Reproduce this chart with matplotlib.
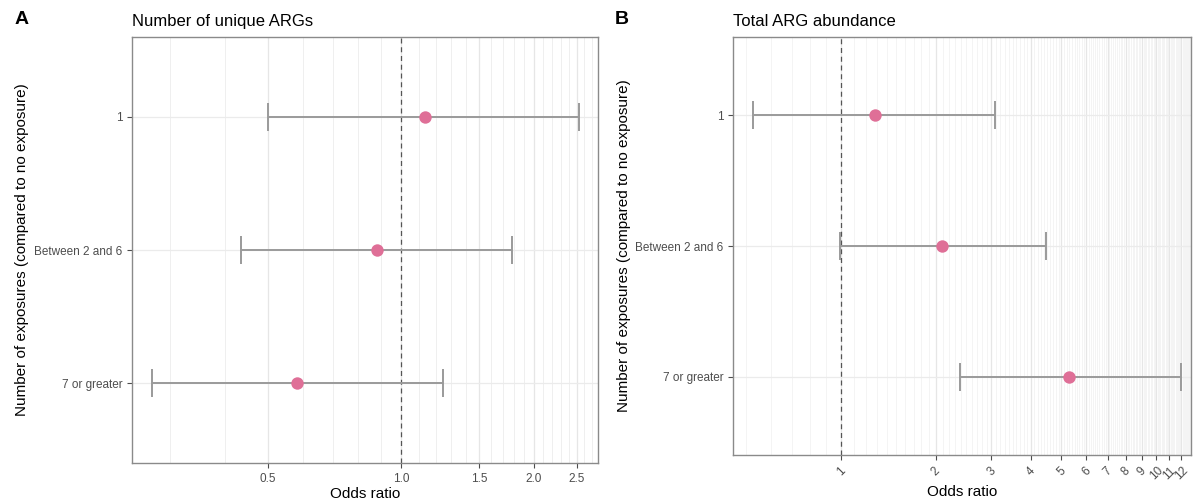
import matplotlib.pyplot as plt
import numpy as np
from matplotlib.ticker import FixedLocator, NullFormatter

plt.rcParams['font.family'] = ['Liberation Sans', 'DejaVu Sans']

groups = ["1", "Between 2 and 6", "7 or greater"]

# odds ratios and 95% CI, number of unique ARGs
or_unique = [1.13, 0.88, 0.58]
lo_unique = [0.50, 0.435, 0.273]
hi_unique = [2.53, 1.78, 1.245]

# odds ratios and 95% CI, total ARG abundance
or_total = [1.28, 2.09, 5.28]
lo_total = [0.526, 0.99, 2.38]
hi_total = [3.08, 4.47, 11.96]

ticks_a = [0.5, 1.0, 1.5, 2.0, 2.5]
ticklabels_a = ["0.5", "1.0", "1.5", "2.0", "2.5"]
ticks_b = [1, 2, 3, 4, 5, 6, 7, 8, 9, 10, 11, 12]

W, H = 1195, 500
fig = plt.figure(figsize=(W / 100, H / 100), dpi=100)

def box(l, r, t, b):
    return [l / W, 1 - b / H, (r - l) / W, (b - t) / H]

ax_a = fig.add_axes(box(132, 598, 37, 463))
ax_b = fig.add_axes(box(733, 1191, 37, 455))

ypos = np.arange(len(groups))[::-1] + 1  # "1" at top

def forest(ax, est, lo, hi, xlim, minor, major, labels, title, rot, minor_col,
           ylab_x):
    ax.set_xscale('log')
    ax.set_xlim(*xlim)
    ax.set_ylim(0.4, 3.6)
    for m in minor:
        ax.axvline(m, color=minor_col, lw=0.6, zorder=0)
    for m in major:
        ax.axvline(m, color='#e6e6e6', lw=0.9, zorder=0)
    for y in ypos:
        ax.axhline(y, color='#ebebeb', lw=0.9, zorder=0)
    ax.axvline(1, color='#555555', lw=0.9, ls=(0, (4, 3)), zorder=1)
    est = np.array(est)
    ax.errorbar(est, ypos, xerr=[est - np.array(lo), np.array(hi) - est],
                fmt='none', ecolor='#9a9a9a', elinewidth=1.4, capsize=10,
                capthick=1.4, zorder=2)
    ax.scatter(est, ypos, s=80, color='#df6f97', zorder=3, linewidths=0)
    ax.xaxis.set_major_locator(FixedLocator(major))
    ax.xaxis.set_minor_locator(FixedLocator([]))
    ax.xaxis.set_minor_formatter(NullFormatter())
    ax.set_xticklabels(labels, rotation=rot, ha='center')
    ax.set_yticks(ypos)
    ax.set_yticklabels(groups)
    ax.tick_params(axis='both', colors='#4d4d4d', labelsize=8.5, length=3.5,
                   width=0.8)
    for s in ax.spines.values():
        s.set_color('#8a8a8a')
        s.set_linewidth(1.0)
    ax.set_xlabel("Odds ratio", fontsize=11, labelpad=2)
    ax.set_ylabel("Number of exposures (compared to no exposure)", fontsize=11)
    ax.yaxis.set_label_coords(ylab_x / W, 0.5, transform=fig.transFigure)
    ax.yaxis.label.set_y(ax.get_position().y0 + ax.get_position().height / 2)
    ax.set_title(title, loc='left', fontsize=12, pad=8)

minor_a = np.round(np.arange(0.3, 2.8, 0.1), 2)
forest(ax_a, or_unique, lo_unique, hi_unique, (0.246, 2.79), minor_a,
       ticks_a, ticklabels_a, "Number of unique ARGs", 0, '#ededed', 29)

minor_b = np.round(np.arange(0.5, 12.9, 0.1), 2)
forest(ax_b, or_total, lo_total, hi_total, (0.455, 12.87), minor_b,
       ticks_b, [str(t) for t in ticks_b], "Total ARG abundance", 45, '#f3f3f3',
       631)

fig.text(15 / W, 1 - 20 / H, "A", fontsize=14, fontweight='bold', va='center')
fig.text(615 / W, 1 - 20 / H, "B", fontsize=14, fontweight='bold', va='center')

fig.savefig("out.png", dpi=100)
